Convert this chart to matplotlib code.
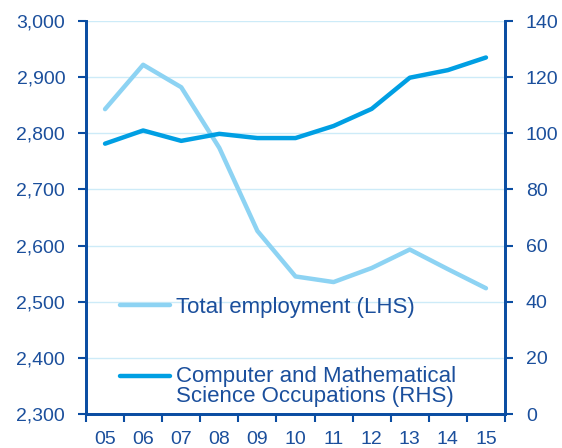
import matplotlib
matplotlib.use("Agg")
import matplotlib.pyplot as plt
from matplotlib.legend_handler import HandlerLine2D
import numpy as np

years = ["05", "06", "07", "08", "09", "10", "11", "12", "13", "14", "15"]
total_employment = [2843, 2922, 2882, 2774, 2626, 2545, 2535, 2560, 2593, 2558, 2524]
computer_math = [96.3, 101.0, 97.3, 99.8, 98.3, 98.3, 102.6, 108.7, 119.8, 122.5, 127.0]

light = "#8DD3F3"
dark = "#009FE3"
navy = "#0B4DA2"
textc = "#1B4F9C"
gridc = "#CDEBF8"

plt.rcParams['font.family'] = ['Liberation Sans', 'DejaVu Sans']


class ShiftedLine(HandlerLine2D):
    # put the legend line next to the first line of a two-line label
    def __init__(self, shift, **kw):
        super().__init__(**kw)
        self.shift = shift

    def create_artists(self, legend, orig_handle, xdescent, ydescent,
                       width, height, fontsize, trans):
        arts = super().create_artists(legend, orig_handle, xdescent, ydescent,
                                      width, height, fontsize, trans)
        for a in arts:
            a.set_ydata(np.asarray(a.get_ydata()) + self.shift)
        return arts


fig = plt.figure(figsize=(5.62, 4.48), dpi=100)
ax = fig.add_axes([86/562, 1 - 414/448, (505 - 86)/562, (414 - 21)/448])
ax2 = ax.twinx()

x = np.arange(len(years))
l1, = ax.plot(x, total_employment, color=light, lw=3.2, solid_capstyle='round',
              label="Total employment (LHS)")
l2, = ax2.plot(x, computer_math, color=dark, lw=3.2, solid_capstyle='round',
               label="Computer and Mathematical\nScience Occupations (RHS)")

ax.set_ylim(2300, 3000)
ax.set_yticks(np.arange(2300, 3001, 100))
ax.set_yticklabels([f"{v:,}" for v in range(2300, 3001, 100)])
ax2.set_ylim(0, 140)
ax2.set_yticks(np.arange(0, 141, 20))
ax.set_xlim(-0.5, len(years) - 0.5)
ax.grid(axis='y', color=gridc, lw=1)
ax.set_axisbelow(True)

ax.set_xticks(np.arange(-0.5, len(years), 1))
ax.set_xticklabels([])
ax.set_xticks(x, minor=True)
ax.set_xticklabels(years, minor=True)
ax.tick_params(axis='x', which='major', length=6, width=1.5, color=navy)
ax.tick_params(axis='x', which='minor', length=0, pad=12, labelsize=14, labelcolor=textc)
ax.tick_params(axis='y', length=6, width=1.5, color=navy, labelsize=14, labelcolor=textc, pad=9)
ax2.tick_params(axis='y', length=6, width=1.5, color=navy, labelsize=14, labelcolor=textc, pad=9)

for a in (ax, ax2):
    a.spines['top'].set_visible(False)
    for s in ('left', 'right', 'bottom'):
        a.spines[s].set_color(navy)
        a.spines[s].set_linewidth(2)

leg = ax2.legend(handles=[l1, l2], loc='upper left', bbox_to_anchor=(0.06, 0.32),
                 frameon=False, fontsize=16, handlelength=2.25, handletextpad=0.25,
                 labelspacing=2.15, borderaxespad=0,
                 handler_map={l2: ShiftedLine(8)})
for t in leg.get_texts():
    t.set_color(textc)
    t.set_linespacing(0.95)

fig.savefig("out.png", dpi=100)
